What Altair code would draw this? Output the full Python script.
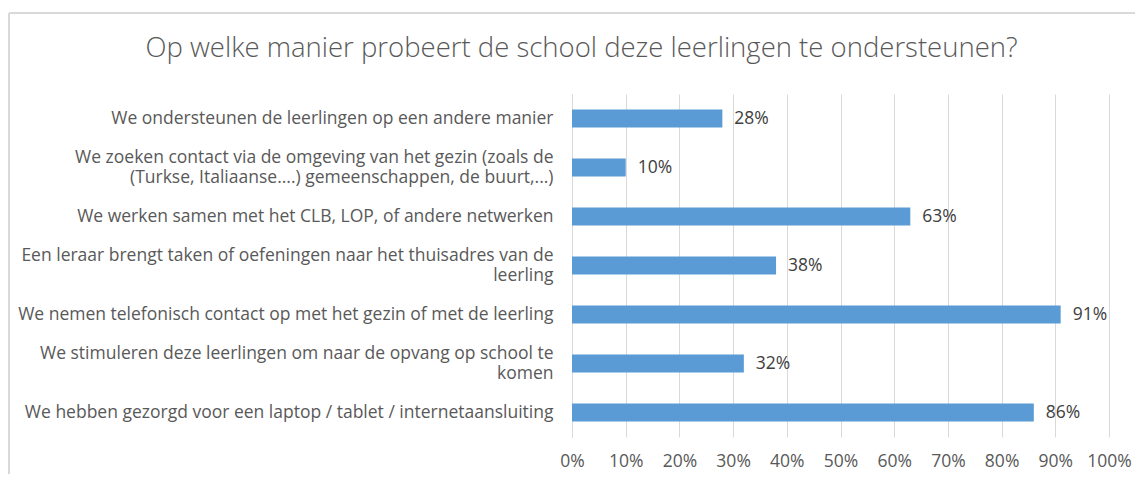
import altair as alt
import pandas as pd

title_text = "Op welke manier probeert de school deze leerlingen te ondersteunen?"

categories = [
    "We ondersteunen de leerlingen op een andere manier",
    "We zoeken contact via de omgeving van het gezin (zoals de\n(Turkse, Italiaanse....) gemeenschappen, de buurt,...)",
    "We werken samen met het CLB, LOP, of andere netwerken",
    "Een leraar brengt taken of oefeningen naar het thuisadres van de\nleerling",
    "We nemen telefonisch contact op met het gezin of met de leerling",
    "We stimuleren deze leerlingen om naar de opvang op school te\nkomen",
    "We hebben gezorgd voor een laptop / tablet / internetaansluiting",
]
values = [0.28, 0.10, 0.63, 0.38, 0.91, 0.32, 0.86]
tick_values = [0.0, 0.1, 0.2, 0.3, 0.4, 0.5, 0.6, 0.7, 0.8, 0.9, 1.0]

df = pd.DataFrame({"cat": categories, "val": values})

FONT = "Open Sans"
FS = 17.5
TXT = "#595959"
GRID = "#D9D9D9"
LINE_H = 20

y_enc = alt.Y(
    "cat:N",
    sort=categories,
    scale=alt.Scale(paddingInner=0.633, paddingOuter=0.3165),
    axis=alt.Axis(
        title=None,
        labelExpr="split(datum.label, '\\n')",
        labelFont=FONT,
        labelFontSize=FS,
        labelColor=TXT,
        labelPadding=19,
        labelLimit=800,
        labelLineHeight=LINE_H,
        labelOffset={
            "condition": {"test": "indexof(datum.label, '\\n') >= 0", "value": -LINE_H / 2},
            "value": 0,
        },
        ticks=False,
        tickSize=0,
        domainColor=GRID,
        domainWidth=1,
        grid=False,
    ),
)
x_enc = alt.X(
    "val:Q",
    scale=alt.Scale(domain=[0, 1]),
    axis=alt.Axis(
        title=None,
        values=tick_values,
        format=".0%",
        grid=True,
        gridColor=GRID,
        gridWidth=1,
        domain=False,
        ticks=False,
        tickSize=0,
        labelOverlap=False,
        labelFlush=False,
        labelFont=FONT,
        labelFontSize=FS,
        labelColor=TXT,
        labelPadding=15,
    ),
)

base = alt.Chart(df)
bars = base.mark_bar(color="#5B9BD5").encode(y=y_enc, x=x_enc)
labels = base.mark_text(
    align="left", baseline="middle", dx=12, font=FONT, fontSize=FS, color="#404040"
).encode(y=alt.Y("cat:N", sort=categories), x="val:Q", text=alt.Text("val:Q", format=".0%"))

frame_data = alt.Data(values=[{}])
border_left = alt.Chart(frame_data).mark_rule(color=GRID, strokeWidth=2).encode(
    x=alt.value(-563), y=alt.value(-81), y2=alt.value(380)
)
border_top = alt.Chart(frame_data).mark_rule(color=GRID, strokeWidth=2).encode(
    x=alt.value(-563), x2=alt.value(570), y=alt.value(-81)
)

chart = (
    alt.layer(border_left, border_top, bars, labels)
    .properties(
        width=537,
        height=343,
        autosize=alt.AutoSizeParams(type="none"),
        padding={"left": 564, "top": 86, "right": 26, "bottom": 37},
        title=alt.Title(
            title_text,
            font=FONT,
            fontSize=27.5,
            fontWeight=300,
            color=TXT,
            anchor="middle",
            frame="group",
            dx=-259,
            offset=-72,
            baseline="alphabetic",
        ),
    )
    .configure_view(stroke=None)
)

chart.save("out.html", embed_options={"renderer": "svg", "actions": False})
